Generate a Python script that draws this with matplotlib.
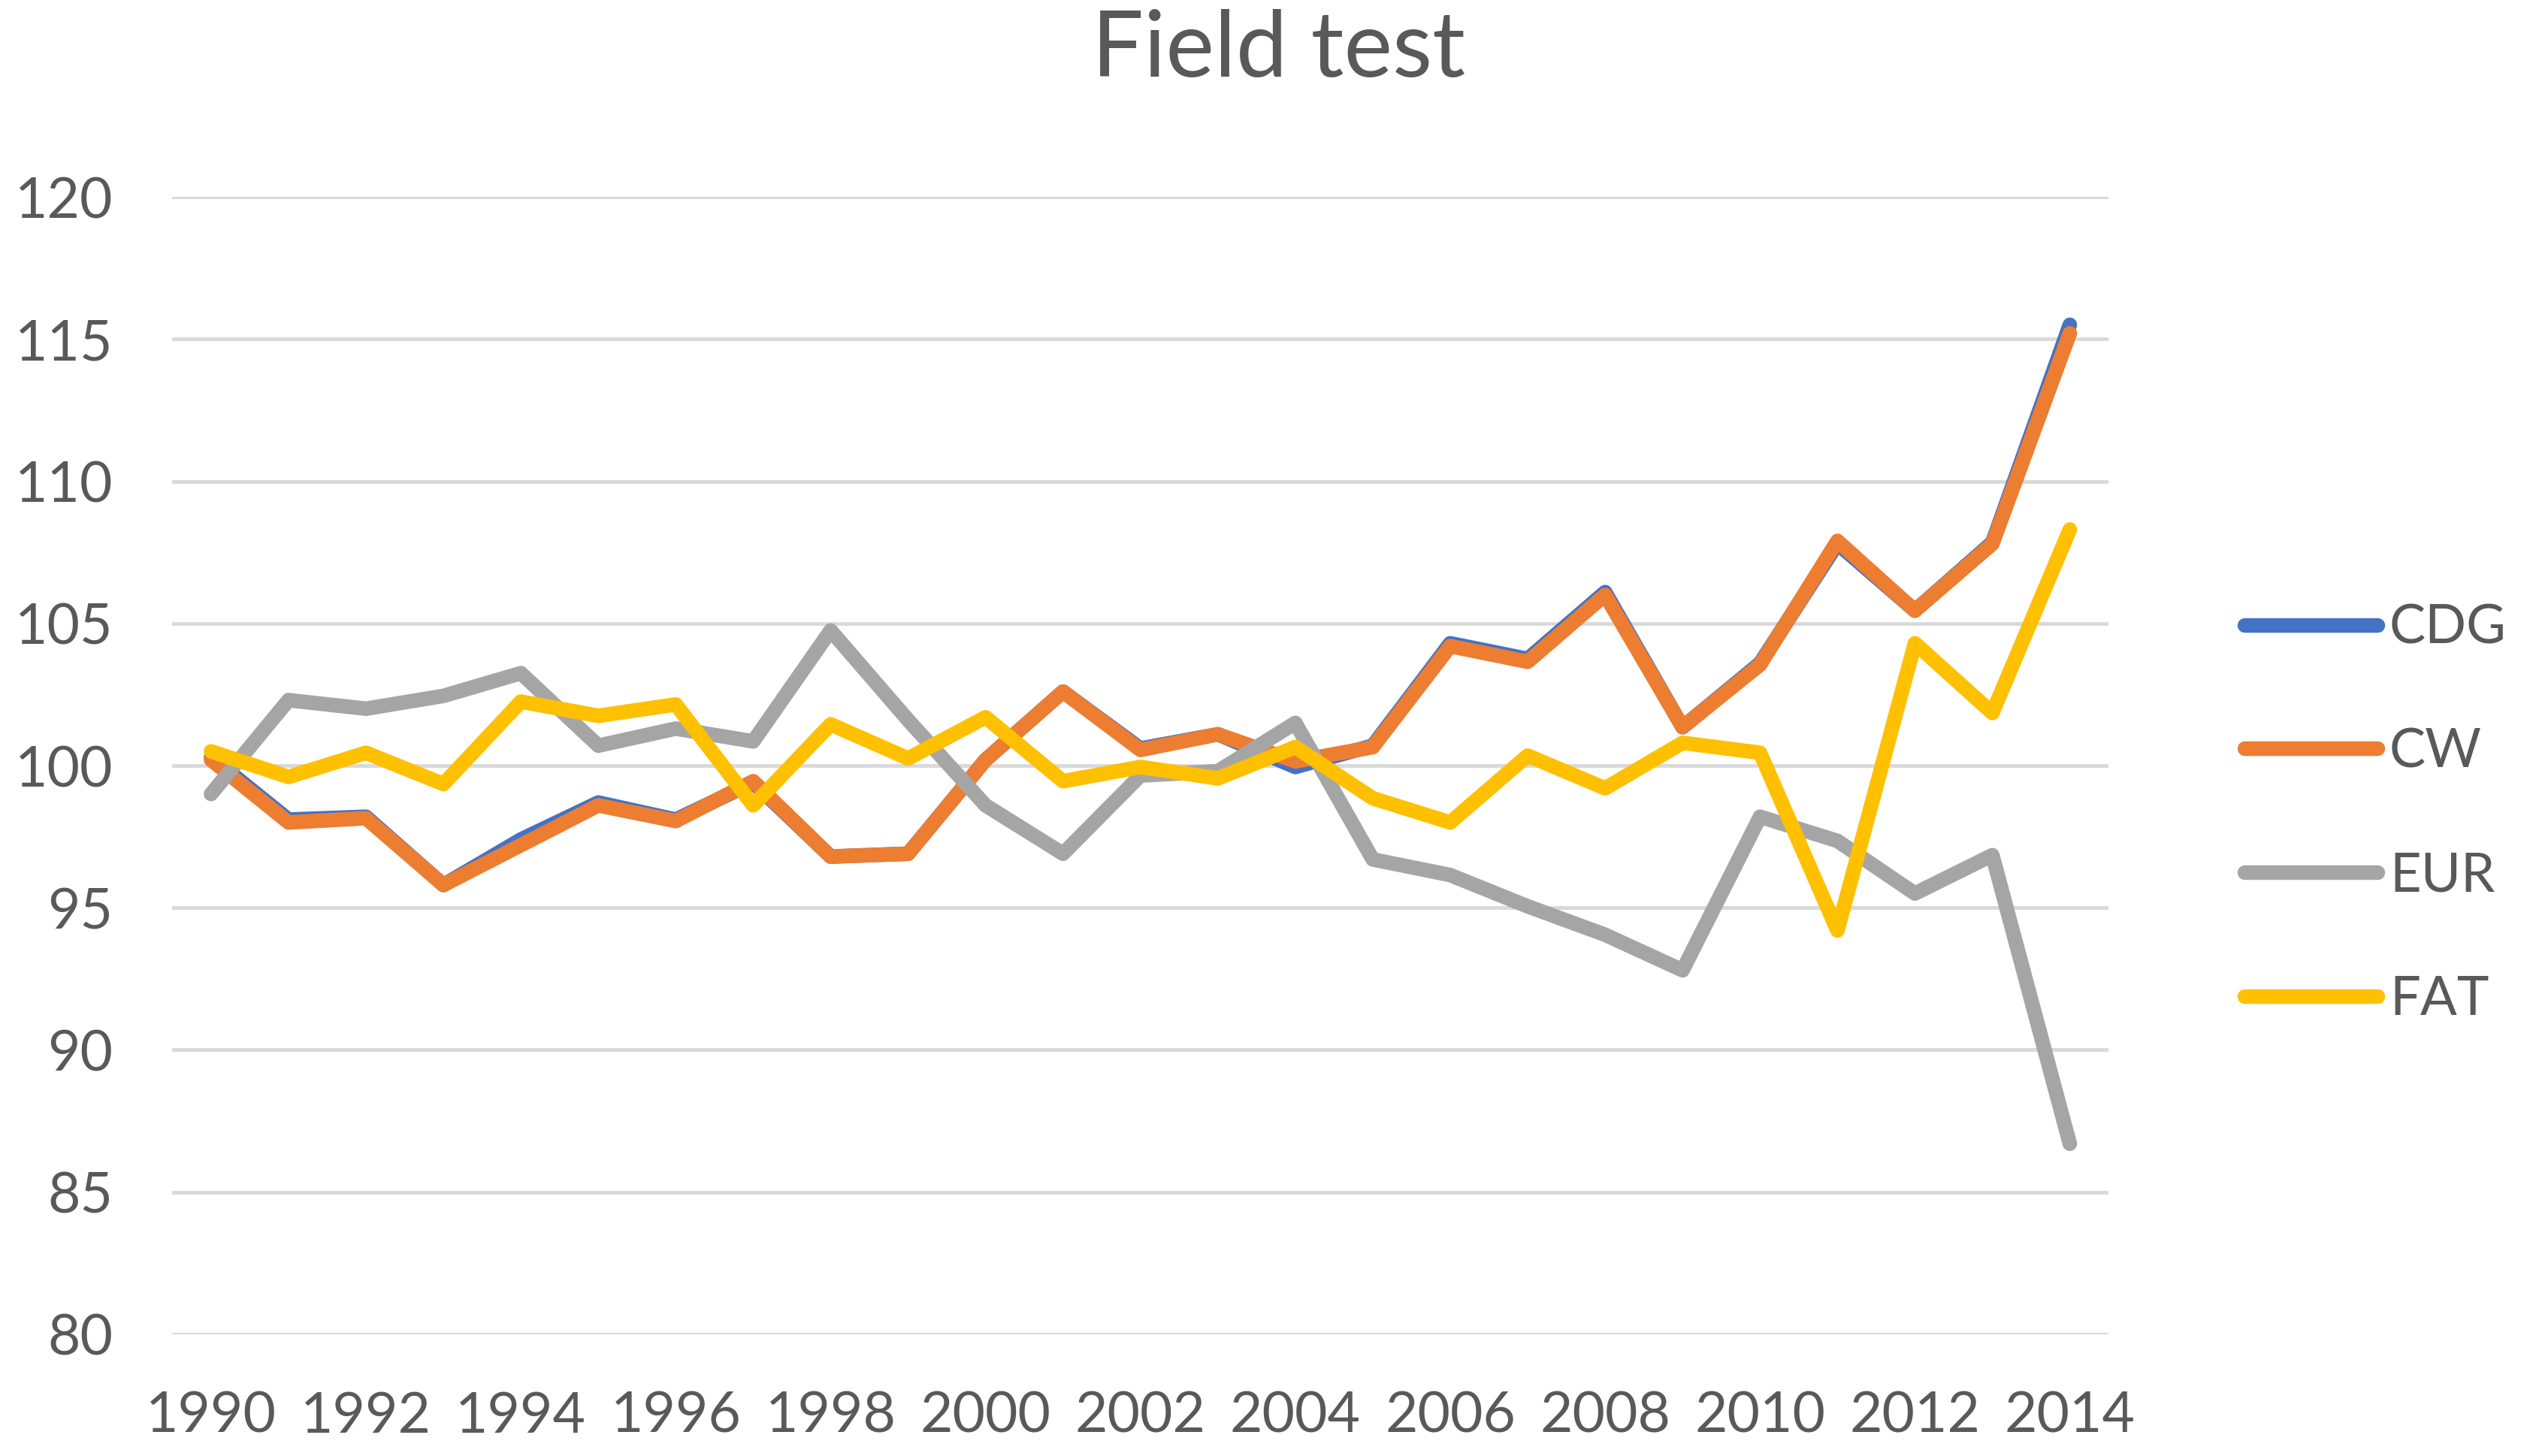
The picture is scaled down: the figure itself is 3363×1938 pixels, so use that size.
import matplotlib
matplotlib.use("Agg")
import matplotlib.pyplot as plt
import numpy as np

years = np.arange(1990, 2015)

cdg = [100.3, 98.1, 98.2, 95.8, 97.4, 98.7, 98.1, 99.4, 96.8, 96.9, 100.2, 102.6, 100.6, 101.1, 99.95,
       100.7, 104.3, 103.75, 106.1, 101.35, 103.6, 107.8, 105.45, 107.85, 115.5]
cw = [100.2, 98.0, 98.15, 95.8, 97.2, 98.6, 98.05, 99.45, 96.8, 96.9, 100.2, 102.6, 100.55, 101.1, 100.15,
      100.65, 104.2, 103.65, 106.0, 101.35, 103.55, 107.9, 105.45, 107.8, 115.2]
eur = [99.0, 102.3, 102.0, 102.45, 103.25, 100.7, 101.3, 100.85, 104.75, 101.6, 98.6, 96.9, 99.65, 99.8, 101.5,
       96.7, 96.15, 95.05, 94.05, 92.8, 98.2, 97.35, 95.5, 96.85, 86.7]
fat = [100.5, 99.6, 100.45, 99.35, 102.25, 101.75, 102.15, 98.6, 101.45, 100.25, 101.7, 99.45, 99.95, 99.55, 100.65,
       98.85, 98.0, 100.35, 99.2, 100.8, 100.45, 94.2, 104.3, 101.85, 108.3]

names = ["CDG", "CW", "EUR", "FAT"]
colors = ["#4472C4", "#ED7D31", "#A5A5A5", "#FFC000"]
txt = "#595959"

plt.rcParams['font.family'] = ['Lato', 'DejaVu Sans']

fig = plt.figure(figsize=(33.63, 19.38), dpi=100)
ax = fig.add_axes([0.0682, 0.0836, 0.7662, 0.7812])

for vals, name, c in zip([cdg, cw, eur, fat], names, colors):
    ax.plot(years, vals, color=c, lw=14, label=name,
            solid_capstyle='round', solid_joinstyle='round')

ax.set_xlim(1989.5, 2014.5)
ax.set_ylim(80, 120)
ax.set_yticks(np.arange(80, 121, 5))
ax.set_xticks(years[::2])
ax.grid(axis='y', color='#D9D9D9', lw=3.5)
ax.set_axisbelow(True)
for s in ax.spines.values():
    s.set_visible(False)
ax.tick_params(length=0, labelsize=54, colors=txt)
ax.tick_params(axis='x', pad=54)
ax.tick_params(axis='y', pad=57)

fig.suptitle("Field test", fontsize=88, color=txt, x=0.506, y=0.994)

leg = fig.legend(loc='center left', bbox_to_anchor=(0.8775, 0.441), frameon=False,
                 fontsize=52, handlelength=2.45, handletextpad=0.22, labelspacing=1.38,
                 borderpad=0)
for t in leg.get_texts():
    t.set_color(txt)

fig.savefig("out.png", dpi=100, facecolor='white')
